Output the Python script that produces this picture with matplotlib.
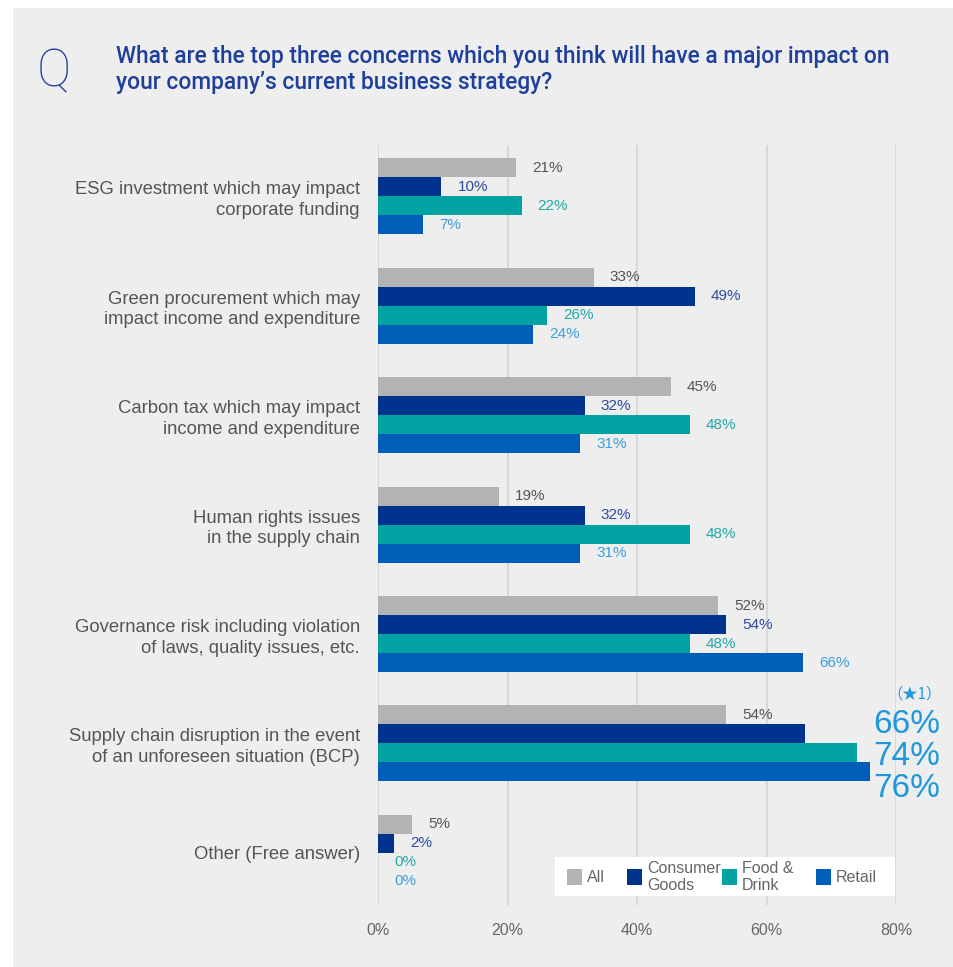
"""Top three concerns chart (horizontal grouped bars)."""

import matplotlib
matplotlib.use("Agg")
import matplotlib.pyplot as plt
from matplotlib.patches import Rectangle
from matplotlib.transforms import blended_transform_factory
import numpy as np


PANEL = "#EEEEEE"
TITLE_BLUE = "#1E3F9C"
INK = "#555555"
GRID = "#D8D8D8"

categories = [
    "ESG investment which may impact\ncorporate funding",
    "Green procurement which may\nimpact income and expenditure",
    "Carbon tax which may impact\nincome and expenditure",
    "Human rights issues\nin the supply chain",
    "Governance risk including violation\nof laws, quality issues, etc.",
    "Supply chain disruption in the event\nof an unforeseen situation (BCP)",
    "Other (Free answer)",
]
series = ["All", "Consumer\nGoods", "Food &\nDrink", "Retail"]
# bar lengths as drawn, and the printed labels
all_vals = [21.3, 33.3, 45.2, 18.7, 52.5, 53.8, 5.3]
consumer_vals = [9.8, 48.9, 31.9, 31.9, 53.8, 66.0, 2.5]
food_vals = [22.2, 26.1, 48.2, 48.2, 48.2, 74.0, 0.0]
retail_vals = [7.0, 24.0, 31.2, 31.2, 65.7, 76.0, 0.0]
all_lbl = [21, 33, 45, 19, 52, 54, 5]
consumer_lbl = [10, 49, 32, 32, 54, 66, 2]
food_lbl = [22, 26, 48, 48, 48, 74, 0]
retail_lbl = [7, 24, 31, 31, 66, 76, 0]
x_ticks = [0, 20, 40, 60, 80]

BAR_COLORS = ["#B3B3B3", "#00338D", "#00A3A1", "#005EB8"]
LABEL_COLORS = ["#555555", "#2B4C9F", "#1FAAA6", "#3AA0DF"]
BIG_BLUE = "#1F97DD"

SANS = ["Liberation Sans", "DejaVu Sans"]
TITLE_FONT = ["Roboto", "Liberation Sans", "DejaVu Sans"]


def W(px):
    return px / 954


def H(px):
    return 1 - px / 967


def main() -> None:
    plt.rcParams["font.family"] = SANS
    fig = plt.figure(figsize=(9.54, 9.67), dpi=100)
    fig.patch.set_facecolor("white")
    fig.add_artist(Rectangle((W(13), 0), 1, 1 - 8 / 967, transform=fig.transFigure,
                             facecolor=PANEL, edgecolor="none", zorder=-10))

    # title
    fig.text(W(54), H(72), "Q", fontsize=37, color=TITLE_BLUE, family=TITLE_FONT,
             weight=100, ha="center", va="center")
    fig.text(W(116), H(57),
             "What are the top three concerns which you think will have a major impact on",
             fontsize=16.4, color=TITLE_BLUE, family=TITLE_FONT, weight="medium",
             ha="left", va="center")
    fig.text(W(116), H(83), "your company\u2019s current business strategy?",
             fontsize=16.4, color=TITLE_BLUE, family=TITLE_FONT, weight="medium",
             ha="left", va="center")

    ax = fig.add_axes([W(378), H(905), 518 / 954, 760 / 967])
    ax.set_facecolor("none")

    values = [all_vals, consumer_vals, food_vals, retail_vals]
    labels = [all_lbl, consumer_lbl, food_lbl, retail_lbl]
    y = np.arange(len(categories))
    h = 19 / 109.5
    offsets = [-1.5 * h, -0.5 * h, 0.5 * h, 1.5 * h]
    big_row = 5
    for s, (vals, lbls) in enumerate(zip(values, labels)):
        ax.barh(y + offsets[s], vals, height=h, color=BAR_COLORS[s], zorder=3)
        for i, (v, lab) in enumerate(zip(vals, lbls)):
            if i == big_row and s > 0:
                continue
            ax.annotate(f"{lab}%", (v, y[i] + offsets[s]), xytext=(11.5, 0),
                        textcoords="offset points", ha="left", va="center",
                        fontsize=11, color=LABEL_COLORS[s], zorder=4)

    # highlighted labels for supply chain row
    tr = blended_transform_factory(ax.transAxes, ax.transData)
    big_shift = [-19 / 109.5, 13 / 109.5, 45 / 109.5]
    for k, s in enumerate([1, 2, 3]):
        ax.text(1.0845, y[big_row] + big_shift[k], f"{labels[s][big_row]}%", transform=tr,
                ha="right", va="center", fontsize=24, color=BIG_BLUE, clip_on=False)
    ax.text(1.0885, y[big_row] - 49 / 109.5, "\uff08\u26051\uff09", transform=tr,
            ha="right", va="center", fontsize=11, color=BIG_BLUE,
            family=["Noto Sans CJK JP", "DejaVu Sans"], clip_on=False)

    ax.set_xlim(0, 80)
    ax.set_ylim(len(categories) - 1 + 0.475, -0.466)
    ax.set_xticks(x_ticks)
    ax.set_xticklabels([f"{t}%" for t in x_ticks], fontsize=11.5, color="#666666")
    ax.set_yticks(y)
    ax.set_yticklabels(categories, fontsize=13.3, color=INK, linespacing=1.3)
    ax.tick_params(axis="y", length=0, pad=13)
    ax.tick_params(axis="x", length=0, pad=13)
    ax.grid(axis="x", color=GRID, linewidth=1.5, zorder=0)
    for spine in ax.spines.values():
        spine.set_visible(False)

    # legend box, drawn by hand to follow the reference spacing
    fig.add_artist(Rectangle((W(555), H(896)), 340 / 954, 39 / 967, transform=fig.transFigure,
                             facecolor="white", edgecolor="none", zorder=5))
    sq_x = [567, 627, 722, 816]
    for k, name in enumerate(series):
        fig.add_artist(Rectangle((W(sq_x[k]), H(885)), 15 / 954, 16 / 967,
                                 transform=fig.transFigure, facecolor=BAR_COLORS[k],
                                 edgecolor="none", zorder=6))
        fig.text(W(sq_x[k] + 20), H(877), name, fontsize=11.5, color="#666666",
                 ha="left", va="center", linespacing=1.2, zorder=7)

    fig.savefig("out.png", dpi=100, facecolor=fig.get_facecolor())


if __name__ == "__main__":
    main()
